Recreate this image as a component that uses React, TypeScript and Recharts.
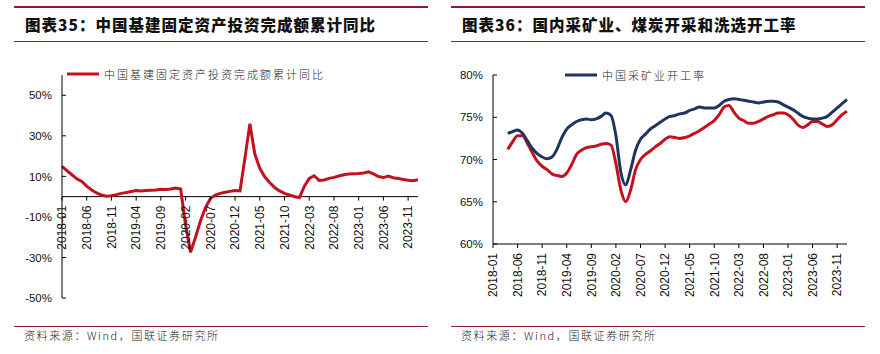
import React from 'react';
import { LineChart, Line, XAxis, YAxis, ReferenceLine, ReferenceDot, Legend } from 'recharts';

// ---- data ----
const monthTickIndex = [0, 5, 10, 15, 20, 25, 30, 35, 40, 45, 50, 55, 60, 65, 70];
const monthTickLabels = [
  '2018-01', '2018-06', '2018-11', '2019-04', '2019-09', '2020-02', '2020-07', '2020-12',
  '2021-05', '2021-10', '2022-03', '2022-08', '2023-01', '2023-06', '2023-11',
];

// 中国基建固定资产投资完成额累计同比 (%), monthly from 2018-01 (index 0) to 2024-01 (index 72)
const infraYoY = [
  14.9, 12.8, 10.8, 8.8, 7.5, 5.2, 3.3, 1.8, 0.8, 0.2,
  0.5, 1.0, 1.6, 2.0, 2.5, 3.0, 2.8, 3.0, 3.2, 3.3,
  3.6, 3.5, 3.8, 4.3, 3.8, -14.0, -27.5, -20.0, -12.0, -5.5,
  -1.0, 0.8, 1.6, 2.2, 2.6, 3.0, 2.8, 19.0, 36.0, 21.0,
  14.0, 9.8, 7.0, 4.5, 2.8, 1.6, 0.8, 0.1, -0.5, 5.0,
  9.0, 10.3, 8.0, 8.2, 9.0, 9.5, 10.2, 10.8, 11.2, 11.3,
  11.4, 11.7, 12.2, 11.2, 9.9, 9.4, 10.1, 9.3, 8.9, 8.5,
  8.1, 7.8, 8.3,
];

// 开工率 (%), monthly from index 3 (2018-04) to index 72 (2024-01)
const rateStart = 3;
const miningRate = [
  73.1, 73.3, 73.5, 73.1, 72.2, 71.3, 70.7, 70.3, 70.1, 70.3,
  71.2, 72.6, 73.6, 74.1, 74.5, 74.7, 74.8, 74.7, 74.8, 75.1,
  75.5, 75.2, 72.8, 68.5, 67.0, 68.8, 71.1, 72.4, 73.0, 73.6,
  74.0, 74.4, 74.8, 75.1, 75.2, 75.4, 75.5, 75.8, 76.0, 76.2,
  76.1, 76.1, 76.1, 76.4, 76.9, 77.1, 77.2, 77.1, 77.0, 76.9,
  76.8, 76.7, 76.8, 76.9, 76.9, 76.8, 76.5, 76.2, 75.9, 75.5,
  75.1, 74.9, 74.8, 74.8, 74.9, 75.1, 75.6, 76.1, 76.6, 77.1,
];
const coalRate = [
  71.2, 72.1, 72.8, 72.8, 71.9, 70.8, 69.8, 69.2, 68.8, 68.3,
  68.1, 68.0, 68.4, 69.4, 70.6, 71.1, 71.4, 71.5, 71.6, 71.8,
  71.9, 71.7, 69.5, 66.4, 65.0, 66.4, 68.8, 70.0, 70.6, 71.0,
  71.5, 71.9, 72.4, 72.7, 72.6, 72.5, 72.6, 72.8, 73.1, 73.4,
  73.8, 74.2, 74.6, 75.3, 76.2, 76.4, 75.6, 74.9, 74.6, 74.3,
  74.3, 74.5, 74.8, 75.1, 75.3, 75.5, 75.5, 75.3, 74.8, 74.1,
  73.8, 74.1, 74.5, 74.5, 74.2, 73.9, 74.1, 74.7, 75.3, 75.7,
];

const leftYTicks = [-50, -30, -10, 10, 30, 50];
const rightYTicks = [60, 65, 70, 75, 80];

const infraData = infraYoY.map((v, i) => ({ m: i, infra: v }));
const rateData = Array.from({ length: rateStart + miningRate.length }, (_, i) => ({
  m: i,
  mining: i >= rateStart ? miningRate[i - rateStart] : null,
  coal: i >= rateStart ? coalRate[i - rateStart] : null,
}));

// ---- styles ----
const RED = '#C3121F';
const NAVY = '#1F3560';
const MAROON = '#8E1B2E';
const TICK_FONT = '"Liberation Sans", Arial, sans-serif';
const CJK_FONT = '"Noto Sans CJK SC", "Noto Sans", sans-serif';

const labelOf = (m: number) => {
  const k = monthTickIndex.indexOf(m);
  return k >= 0 ? monthTickLabels[k] : '';
};

const YTick = (props: any) => {
  const { x, y, payload } = props;
  return (
    <g>
      <line x1={x} x2={x + 4} y1={y} y2={y} stroke="#000" strokeWidth={1} />
      <text x={x - 10} y={y} dy="0.36em" textAnchor="end" fontSize={11.5} fontFamily={TICK_FONT} fill="#111">
        {`${payload.value}%`}
      </text>
    </g>
  );
};

const XTick = (props: any) => {
  const { x, y, payload } = props;
  const ty = y + 9;
  return (
    <g>
      <line x1={x} x2={x} y1={y} y2={y + 4} stroke="#000" strokeWidth={1} />
      <text x={x} y={ty} dy="0.36em" textAnchor="end" transform={`rotate(-90, ${x}, ${ty})`} fontSize={12} fontFamily={TICK_FONT} fill="#111">
        {labelOf(payload.value)}
      </text>
    </g>
  );
};

const zeroAxisTick = (label: string) => (props: any) => {
  const { cx, cy } = props;
  const ty = cy + 9;
  return (
    <g>
      <line x1={cx} x2={cx} y1={cy} y2={cy + 4} stroke="#000" strokeWidth={1} />
      <text x={cx} y={ty} dy="0.36em" textAnchor="end" transform={`rotate(-90, ${cx}, ${ty})`} fontSize={12} fontFamily={TICK_FONT} fill="#111">
        {label}
      </text>
    </g>
  );
};

const LegendContent = (props: any) => {
  const { payload } = props;
  const items = (payload || []).filter(
    (e: any) => e.type !== 'none' && !(e.payload && e.payload.legendType === 'none')
  );
  return (
    <div style={{ display: 'flex' }}>
      {items.map((e: any) => (
        <div key={e.value} style={{ display: 'flex', alignItems: 'center', whiteSpace: 'nowrap' }}>
          <svg width={34} height={6} style={{ display: 'block' }}>
            <line x1={1} x2={33} y1={3} y2={3} stroke={e.color} strokeWidth={3} />
          </svg>
          <span style={{ marginLeft: 4, fontSize: 11, letterSpacing: 2, fontFamily: CJK_FONT, fontWeight: 300, color: '#222', lineHeight: '14px' }}>
            {e.value}
          </span>
        </div>
      ))}
    </div>
  );
};

const Frame = ({ left, width, title }: { left: number; width: number; title: string }) => (
  <>
    <div style={{ position: 'absolute', left, top: 6, width, height: 1.5, background: MAROON }} />
    <div style={{ position: 'absolute', left: left + 11, top: 13, fontFamily: CJK_FONT, fontWeight: 900, fontSize: 15.5, letterSpacing: 1.0, lineHeight: '22px', color: '#111', whiteSpace: 'nowrap' }}>
      {title}
    </div>
    <div style={{ position: 'absolute', left, top: 40.5, width, height: 1.5, background: MAROON }} />
    <div style={{ position: 'absolute', left, top: 325.5, width, height: 1.5, background: MAROON }} />
    <div style={{ position: 'absolute', left: left + 10, top: 327, fontFamily: CJK_FONT, fontWeight: 300, fontSize: 11, letterSpacing: 1.6, lineHeight: '16px', color: '#222', whiteSpace: 'nowrap' }}>
      资料来源：Wind，国联证券研究所
    </div>
  </>
);

export default function App() {
  return (
    <div style={{ position: 'absolute', left: 0, top: 0, width: 880, height: 354, background: '#fff', overflow: 'hidden' }}>
      <Frame left={14} width={414} title="图表35：中国基建固定资产投资完成额累计同比" />
      <Frame left={451} width={414} title="图表36：国内采矿业、煤炭开采和洗选开工率" />

      <div style={{ position: 'absolute', left: 0, top: 0 }}>
        <LineChart width={440} height={354} data={infraData} margin={{ top: 75, right: 22, bottom: 56, left: 12 }}>
          <XAxis dataKey="m" type="number" domain={[0, 72]} hide />
          <YAxis
            type="number"
            domain={[-50, 60]}
            ticks={leftYTicks}
            width={50}
            interval={0}
            tickSize={0}
            tickMargin={0}
            tickLine={false}
            axisLine={{ stroke: '#000', strokeWidth: 1 }}
            tick={<YTick />}
          />
          <ReferenceLine y={0} stroke="#000" strokeWidth={1} />
          {monthTickIndex.map((m, i) => (
            <ReferenceDot key={m} x={m} y={0} r={0} shape={zeroAxisTick(monthTickLabels[i])} />
          ))}
          <Legend
            layout="horizontal"
            verticalAlign="middle"
            align="center"
            wrapperStyle={{ top: 67, left: 66, width: 'auto' }}
            content={<LegendContent />}
          />
          <Line
            type="linear"
            dataKey="infra"
            name="中国基建固定资产投资完成额累计同比"
            stroke={RED}
            strokeWidth={3}
            dot={false}
            isAnimationActive={false}
          />
        </LineChart>
      </div>

      <div style={{ position: 'absolute', left: 440, top: 0 }}>
        <LineChart width={440} height={354} data={rateData} margin={{ top: 75, right: 33, bottom: 50, left: 8 }}>
          <XAxis
            dataKey="m"
            type="number"
            domain={[0, 72]}
            ticks={monthTickIndex}
            interval={0}
            height={60}
            tickSize={0}
            tickMargin={0}
            tickLine={false}
            axisLine={{ stroke: '#000', strokeWidth: 1 }}
            tick={<XTick />}
          />
          <YAxis
            type="number"
            domain={[60, 80]}
            ticks={rightYTicks}
            width={45}
            interval={0}
            tickSize={0}
            tickMargin={0}
            tickLine={false}
            axisLine={{ stroke: '#000', strokeWidth: 1 }}
            tick={<YTick />}
          />
          <Legend
            layout="horizontal"
            verticalAlign="middle"
            align="center"
            wrapperStyle={{ top: 68, left: 124, width: 'auto' }}
            content={<LegendContent />}
          />
          <Line
            type="monotone"
            dataKey="coal"
            name="煤炭开采和洗选业开工率"
            legendType="none"
            stroke={RED}
            strokeWidth={3}
            dot={false}
            isAnimationActive={false}
          />
          <Line
            type="monotone"
            dataKey="mining"
            name="中国采矿业开工率"
            stroke={NAVY}
            strokeWidth={3}
            dot={false}
            isAnimationActive={false}
          />
        </LineChart>
      </div>
    </div>
  );
}
